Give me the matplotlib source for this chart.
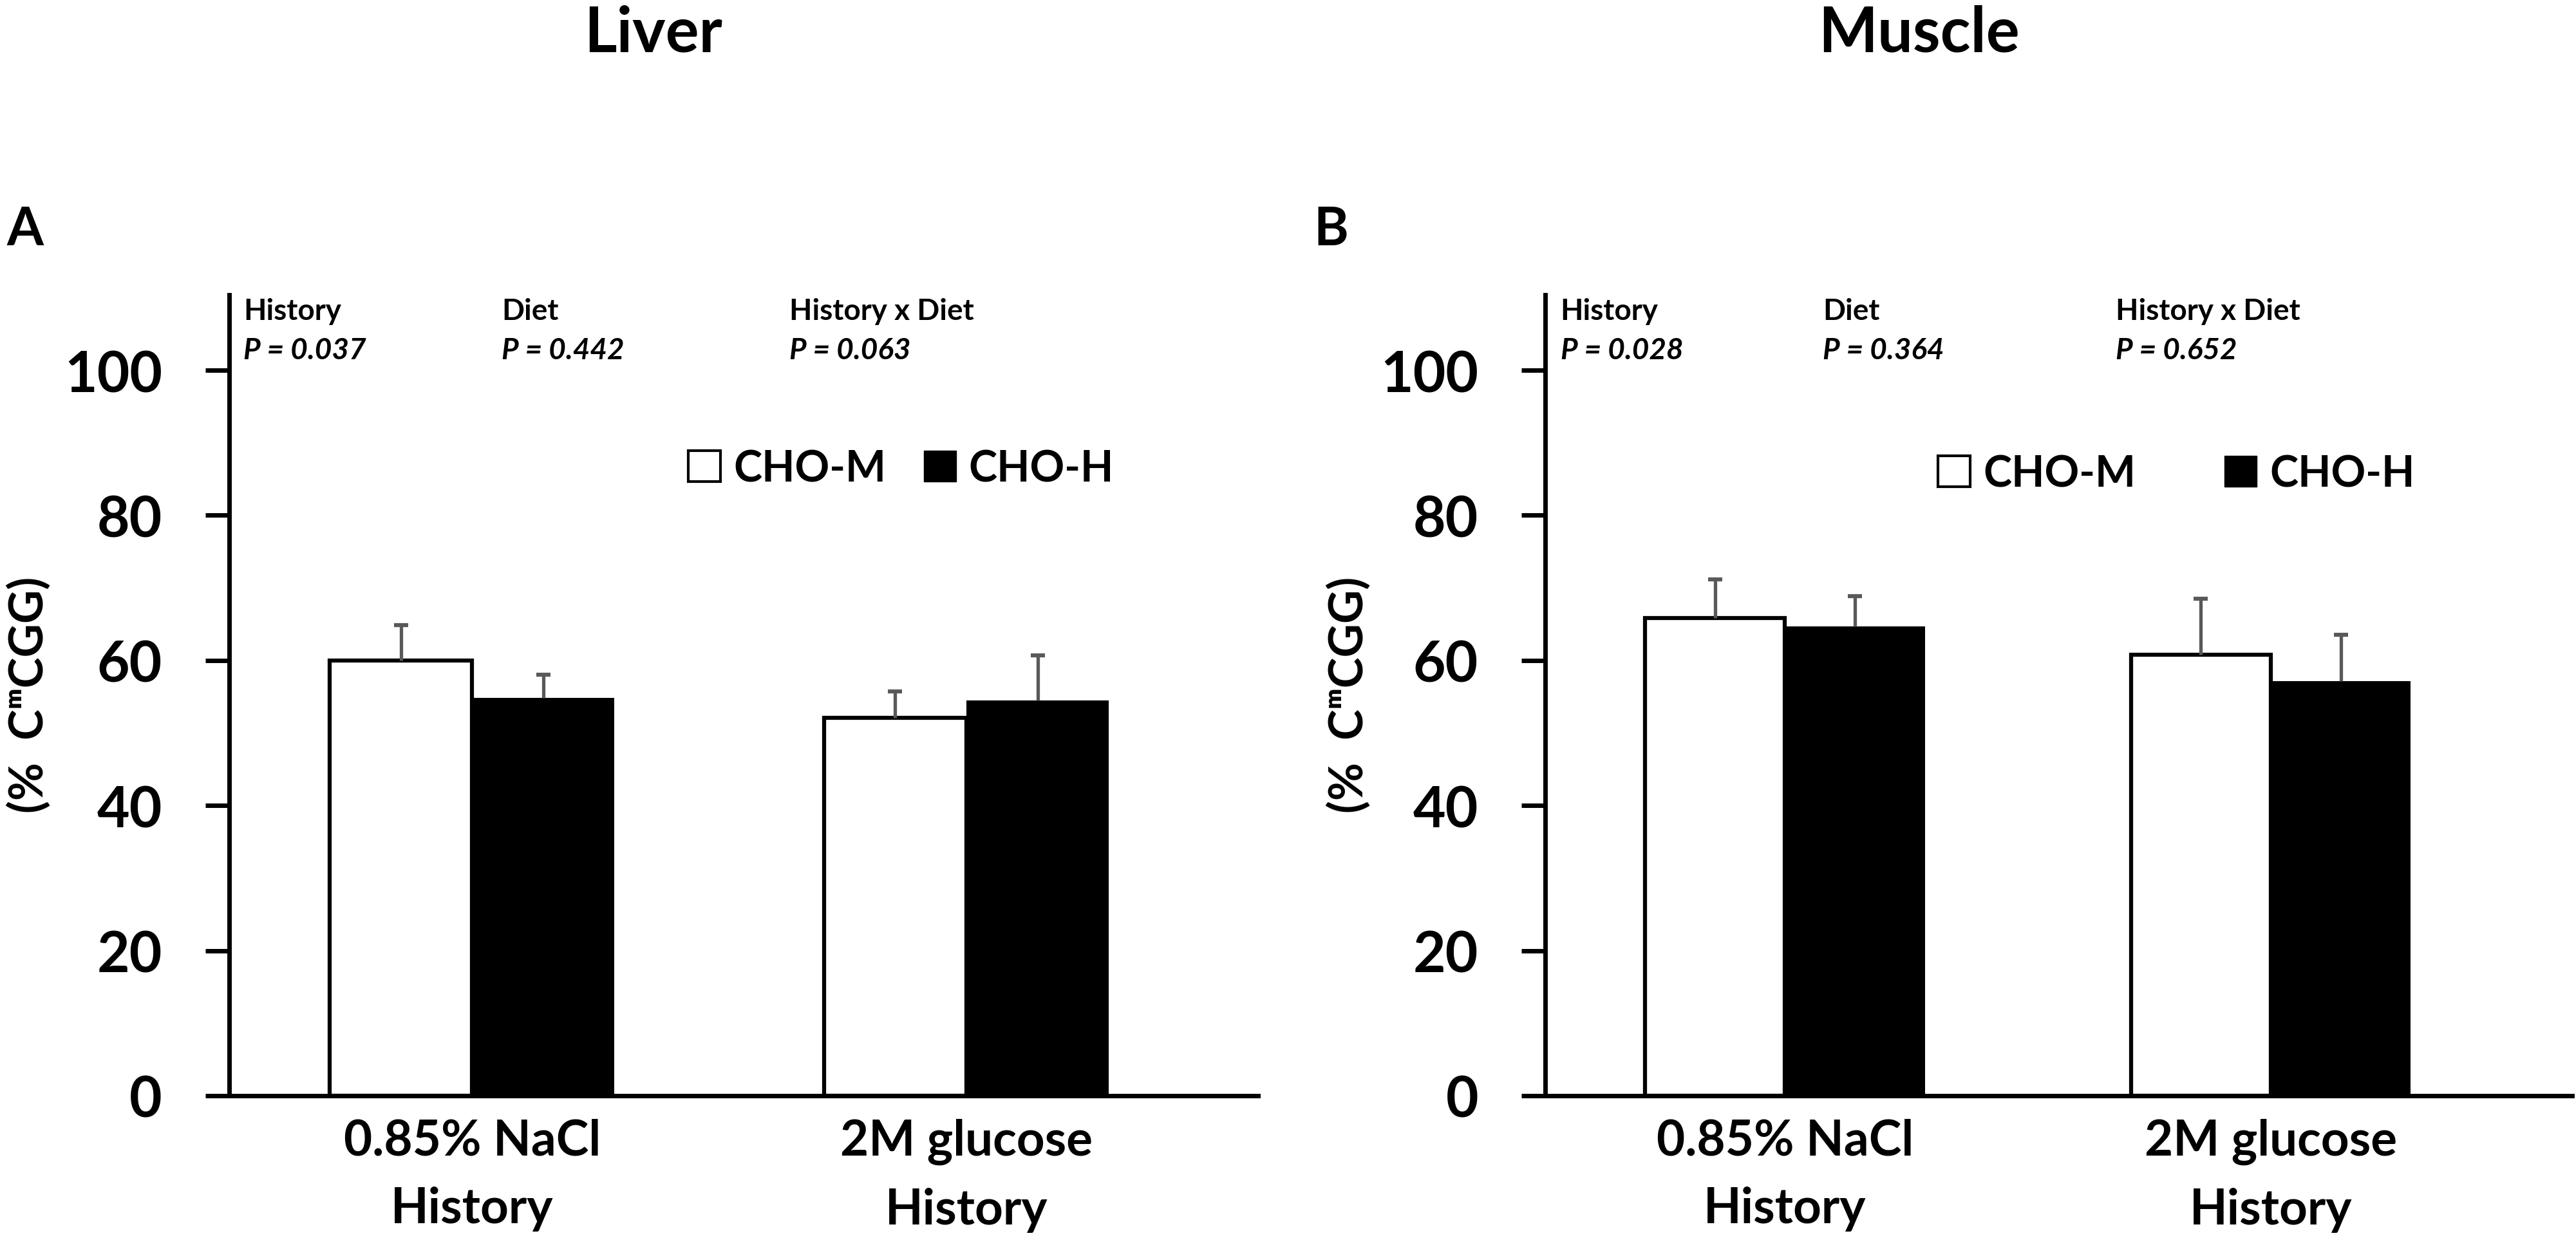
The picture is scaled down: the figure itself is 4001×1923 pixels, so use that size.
import numpy as np
import matplotlib
matplotlib.use("Agg")
import matplotlib.pyplot as plt
from matplotlib.patches import Patch

plt.rcParams['font.family'] = ['Lato', 'DejaVu Sans']
plt.rcParams['font.weight'] = 'bold'

# data
groups = ['0.85% NaCl\nHistory', '2M glucose\nHistory']
diets = ['CHO-M', 'CHO-H']
effects = ['History', 'Diet', 'History x Diet']
yticks = [0, 20, 40, 60, 80, 100]

liver_m = [60.0, 52.1]
liver_m_err = [4.9, 3.6]
liver_h = [54.8, 54.5]
liver_h_err = [3.2, 6.2]
liver_p = ['0.037', '0.442', '0.063']

muscle_m = [65.8, 60.8]
muscle_m_err = [5.4, 7.7]
muscle_h = [64.7, 57.1]
muscle_h_err = [4.2, 6.4]
muscle_p = ['0.028', '0.364', '0.652']

ylab = '(%  C\u1d50CGG)'
err_col = '#595959'
w = 0.288


def panel(ax, m, m_err, h, h_err, pvals, p_x, leg_xy, colsp, xlim):
    x = np.arange(len(groups))
    ax.bar(x - w / 2, m, w, color='white', edgecolor='black', linewidth=4.5, zorder=2)
    ax.bar(x + w / 2, h, w, color='black', linewidth=0, zorder=2)
    for xs, vals, errs in ((x - w / 2, m, m_err), (x + w / 2, h, h_err)):
        eb = ax.errorbar(xs, vals, yerr=[np.zeros(len(errs)), errs], fmt='none',
                         ecolor=err_col, elinewidth=3.8, capsize=8, capthick=4.5, zorder=3)
        eb[1][0].set_visible(False)  # only upper cap

    ax.set_xlim(*xlim)
    ax.set_ylim(0, 110.4)
    ax.set_yticks(yticks)
    ax.set_xticks(x, groups)
    for s in ['top', 'right']:
        ax.spines[s].set_visible(False)
    for s in ['left', 'bottom']:
        ax.spines[s].set_linewidth(5)
    ax.tick_params(axis='y', length=27, width=5, pad=48, labelsize=63)
    ax.tick_params(axis='x', length=0, pad=25, labelsize=55)
    for t in ax.get_xticklabels():
        t.set_linespacing(1.62)

    for i, (eff, p) in enumerate(zip(effects, pvals)):
        ax.text(p_x[i], 107.0, eff, fontsize=33, va='baseline')
        ax.text(p_x[i], 101.6, 'P = ' + p, fontsize=33, style='italic', va='baseline')

    handles = [Patch(facecolor='white', edgecolor='black', linewidth=3),
               Patch(facecolor='black', edgecolor='black')]
    ax.legend(handles, diets, loc='center left', bbox_to_anchor=leg_xy,
              bbox_transform=ax.transData, ncol=2, frameon=False,
              prop={'size': 48, 'weight': 'bold'}, handlelength=0.75,
              handleheight=0.75, handletextpad=0.3, columnspacing=colsp,
              borderpad=0, borderaxespad=0)


fig = plt.figure(figsize=(40.01, 19.24), dpi=100)
axA = fig.add_axes([0.0890, 0.1149, 0.3994, 0.6466])
axB = fig.add_axes([0.5999, 0.1149, 0.3986, 0.6466])

panel(axA, liver_m, liver_m_err, liver_h, liver_h_err, liver_p,
      [-0.462, 0.060, 0.642], (0.4375, 86.4), 0.88, (-0.491, 1.59))
panel(axB, muscle_m, muscle_m_err, muscle_h, muscle_h_err, muscle_p,
      [-0.462, 0.078, 0.681], (0.315, 85.7), 2.07, (-0.493, 1.62))

fig.text(0.2537, 0.9584, 'Liver', fontsize=70, ha='center', va='baseline')
fig.text(0.745, 0.9584, 'Muscle', fontsize=70, ha='center', va='baseline')
fig.text(10 / 4001, 0.802, 'A', fontsize=59, ha='left', va='baseline')
fig.text(2040 / 4001, 0.802, 'B', fontsize=59, ha='left', va='baseline')
fig.text(45 / 4001, 0.439, ylab, fontsize=52, rotation=90, ha='center', va='center')
fig.text(2095 / 4001, 0.439, ylab, fontsize=52, rotation=90, ha='center', va='center')

fig.savefig('out.png', dpi=100, facecolor='white')
